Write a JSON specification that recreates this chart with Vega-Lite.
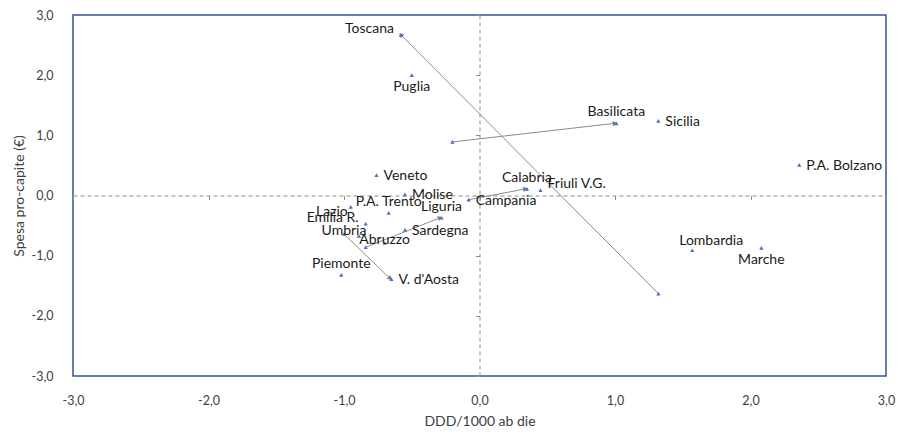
{
  "$schema": "https://vega.github.io/schema/vega-lite/v6.json",
  "width": 813,
  "height": 361,
  "autosize": {"type": "none"},
  "padding": {"left": 73, "top": 15, "right": 15, "bottom": 56},
  "background": "white",
  "config": {
    "view": {"stroke": "#2F5597", "strokeWidth": 1.5},
    "axis": {"grid": false, "labelFont": "Lato", "titleFont": "Lato", "labelColor": "#404040", "titleColor": "#404040", "labelFontSize": 12.5, "titleFontSize": 14, "titleFontWeight": "normal", "labelFlush": false, "labelOverlap": false},
    "text": {"font": "Lato", "fontSize": 14, "color": "#1a1a1a"}
  },
  "datasets": {
    "points": [
      {"name": "Toscana", "x": -0.58, "y": 2.67},
      {"name": "Puglia", "x": -0.50, "y": 2.00},
      {"name": "Basilicata", "x": 1.01, "y": 1.20},
      {"name": "Sicilia", "x": 1.32, "y": 1.24},
      {"name": "P.A. Bolzano", "x": 2.36, "y": 0.51},
      {"name": "Lombardia", "x": 1.57, "y": -0.91},
      {"name": "Marche", "x": 2.08, "y": -0.87},
      {"name": "Calabria", "x": 0.35, "y": 0.11},
      {"name": "Friuli V.G.", "x": 0.45, "y": 0.09},
      {"name": "Campania", "x": -0.08, "y": -0.07},
      {"name": "Veneto", "x": -0.76, "y": 0.34},
      {"name": "Molise", "x": -0.55, "y": 0.02},
      {"name": "Liguria", "x": -0.28, "y": -0.37},
      {"name": "Sardegna", "x": -0.55, "y": -0.57},
      {"name": "Abruzzo", "x": -0.70, "y": -0.79},
      {"name": "Emilia R.", "x": -0.84, "y": -0.47},
      {"name": "Lazio", "x": -0.95, "y": -0.19},
      {"name": "P.A. Trento", "x": -0.67, "y": -0.29},
      {"name": "Umbria", "x": -1.00, "y": -0.64},
      {"name": "Piemonte", "x": -1.02, "y": -1.32},
      {"name": "V. d'Aosta", "x": -0.65, "y": -1.39},
      {"name": "", "x": -0.89, "y": -0.67},
      {"name": "", "x": -0.84, "y": -0.86},
      {"name": "", "x": 1.32, "y": -1.63},
      {"name": "", "x": -0.20, "y": 0.89}
    ],
    "arrows": [
      {"x": 1.32, "y": -1.63, "x2": -0.58, "y2": 2.67},
      {"x": -0.20, "y": 0.89, "x2": 1.00, "y2": 1.20},
      {"x": -0.08, "y": -0.07, "x2": 0.34, "y2": 0.11},
      {"x": -0.84, "y": -0.86, "x2": -0.29, "y2": -0.37},
      {"x": -1.00, "y": -0.64, "x2": -0.66, "y2": -1.38}
    ]
  },
  "layer": [
    {
      "data": {"name": "arrows"},
      "mark": {"type": "rule", "color": "#8c8c8c", "strokeWidth": 1},
      "encoding": {
        "x": {"field": "x", "type": "quantitative", "scale": {"domain": [-3, 3], "nice": false, "zero": false},
          "axis": {"orient": "bottom", "offset": -180.5, "domain": true, "domainColor": "#8c8c8c", "domainDash": [4, 3], "domainWidth": 1, "ticks": true, "tickColor": "#8c8c8c", "tickSize": 4, "tickWidth": 1, "labels": false, "title": null, "values": [-3, -2, -1, 0, 1, 2, 3]}},
        "y": {"field": "y", "type": "quantitative", "scale": {"domain": [-3, 3], "nice": false, "zero": false},
          "axis": {"orient": "left", "offset": -406.5, "domain": true, "domainColor": "#8c8c8c", "domainDash": [4, 3], "domainWidth": 1, "ticks": true, "tickColor": "#8c8c8c", "tickSize": 4, "tickWidth": 1, "labels": false, "title": null, "values": [-3, -2, -1, 0, 1, 2, 3]}},
        "x2": {"field": "x2"},
        "y2": {"field": "y2"}
      }
    },
    {
      "data": {"name": "arrows"},
      "transform": [
        {"calculate": "atan2((datum.x2 - datum.x) * 135.5, (datum.y2 - datum.y) * 60.17) * 180 / PI", "as": "angle"}
      ],
      "mark": {"type": "point", "shape": "triangle-up", "filled": true, "size": 28, "color": "#7f7f7f", "opacity": 1},
      "encoding": {
        "x": {"field": "x2", "type": "quantitative", "scale": {"domain": [-3, 3], "nice": false, "zero": false}, "axis": null},
        "y": {"field": "y2", "type": "quantitative", "scale": {"domain": [-3, 3], "nice": false, "zero": false}, "axis": null},
        "angle": {"field": "angle", "type": "quantitative", "scale": null}
      }
    },
    {
      "data": {"name": "points"},
      "mark": {"type": "point", "shape": "triangle-up", "filled": true, "size": 18, "color": "#4472C4", "opacity": 1},
      "encoding": {
        "x": {"field": "x", "type": "quantitative", "scale": {"domain": [-3, 3], "nice": false, "zero": false},
          "axis": {"orient": "bottom", "domain": false, "ticks": false, "tickSize": 0, "labelPadding": 18, "values": [-3, -2, -1, 0, 1, 2, 3], "labelExpr": "replace(replace(format(datum.value, '.1f'), '.', ','), '\u2212', '-')", "title": "DDD/1000 ab die", "titleY": 45, "titleBaseline": "middle"}},
        "y": {"field": "y", "type": "quantitative", "scale": {"domain": [-3, 3], "nice": false, "zero": false},
          "axis": {"orient": "left", "domain": false, "ticks": false, "tickSize": 0, "labelPadding": 20, "values": [-3, -2, -1, 0, 1, 2, 3], "labelExpr": "replace(replace(format(datum.value, '.1f'), '.', ','), '\u2212', '-')", "title": "Spesa pro-capite (€)", "titleX": -54, "titleY": 180.5, "titleBaseline": "middle"}}
      }
    },
    {
      "data": {"name": "points"},
      "transform": [{"filter": {"field": "name", "oneOf": ["Sicilia", "P.A. Bolzano", "Veneto", "Molise", "Sardegna", "V. d'Aosta", "Campania"]}}],
      "mark": {"type": "text", "align": "left", "baseline": "middle", "dx": 7, "dy": 1},
      "encoding": {
        "x": {"field": "x", "type": "quantitative", "scale": {"domain": [-3, 3], "nice": false, "zero": false}, "axis": null},
        "y": {"field": "y", "type": "quantitative", "scale": {"domain": [-3, 3], "nice": false, "zero": false}, "axis": null},
        "text": {"field": "name"}
      }
    },
    {
      "data": {"name": "points"},
      "transform": [{"filter": {"field": "name", "oneOf": ["Friuli V.G."]}}],
      "mark": {"type": "text", "align": "left", "baseline": "middle", "dx": 7, "dy": -6},
      "encoding": {
        "x": {"field": "x", "type": "quantitative", "scale": {"domain": [-3, 3], "nice": false, "zero": false}, "axis": null},
        "y": {"field": "y", "type": "quantitative", "scale": {"domain": [-3, 3], "nice": false, "zero": false}, "axis": null},
        "text": {"field": "name"}
      }
    },
    {
      "data": {"name": "points"},
      "transform": [{"filter": {"field": "name", "oneOf": ["Toscana", "Emilia R."]}}],
      "mark": {"type": "text", "align": "right", "baseline": "middle", "dx": -7, "dy": -6},
      "encoding": {
        "x": {"field": "x", "type": "quantitative", "scale": {"domain": [-3, 3], "nice": false, "zero": false}, "axis": null},
        "y": {"field": "y", "type": "quantitative", "scale": {"domain": [-3, 3], "nice": false, "zero": false}, "axis": null},
        "text": {"field": "name"}
      }
    },
    {
      "data": {"name": "points"},
      "transform": [{"filter": {"field": "name", "oneOf": ["Lazio"]}}],
      "mark": {"type": "text", "align": "right", "baseline": "middle", "dx": -3, "dy": 5},
      "encoding": {
        "x": {"field": "x", "type": "quantitative", "scale": {"domain": [-3, 3], "nice": false, "zero": false}, "axis": null},
        "y": {"field": "y", "type": "quantitative", "scale": {"domain": [-3, 3], "nice": false, "zero": false}, "axis": null},
        "text": {"field": "name"}
      }
    },
    {
      "data": {"name": "points"},
      "transform": [{"filter": {"field": "name", "oneOf": ["Basilicata", "Calabria", "Liguria", "P.A. Trento", "Piemonte"]}}],
      "mark": {"type": "text", "align": "center", "baseline": "middle", "dy": -11},
      "encoding": {
        "x": {"field": "x", "type": "quantitative", "scale": {"domain": [-3, 3], "nice": false, "zero": false}, "axis": null},
        "y": {"field": "y", "type": "quantitative", "scale": {"domain": [-3, 3], "nice": false, "zero": false}, "axis": null},
        "text": {"field": "name"}
      }
    },
    {
      "data": {"name": "points"},
      "transform": [{"filter": {"field": "name", "oneOf": ["Lombardia"]}}],
      "mark": {"type": "text", "align": "left", "baseline": "middle", "dx": -13, "dy": -9},
      "encoding": {
        "x": {"field": "x", "type": "quantitative", "scale": {"domain": [-3, 3], "nice": false, "zero": false}, "axis": null},
        "y": {"field": "y", "type": "quantitative", "scale": {"domain": [-3, 3], "nice": false, "zero": false}, "axis": null},
        "text": {"field": "name"}
      }
    },
    {
      "data": {"name": "points"},
      "transform": [{"filter": {"field": "name", "oneOf": ["Umbria", "Abruzzo"]}}],
      "mark": {"type": "text", "align": "center", "baseline": "middle", "dy": -3},
      "encoding": {
        "x": {"field": "x", "type": "quantitative", "scale": {"domain": [-3, 3], "nice": false, "zero": false}, "axis": null},
        "y": {"field": "y", "type": "quantitative", "scale": {"domain": [-3, 3], "nice": false, "zero": false}, "axis": null},
        "text": {"field": "name"}
      }
    },
    {
      "data": {"name": "points"},
      "transform": [{"filter": {"field": "name", "oneOf": ["Puglia", "Marche"]}}],
      "mark": {"type": "text", "align": "center", "baseline": "middle", "dy": 12},
      "encoding": {
        "x": {"field": "x", "type": "quantitative", "scale": {"domain": [-3, 3], "nice": false, "zero": false}, "axis": null},
        "y": {"field": "y", "type": "quantitative", "scale": {"domain": [-3, 3], "nice": false, "zero": false}, "axis": null},
        "text": {"field": "name"}
      }
    }
  ],
  "resolve": {"axis": {"x": "independent", "y": "independent"}}
}
